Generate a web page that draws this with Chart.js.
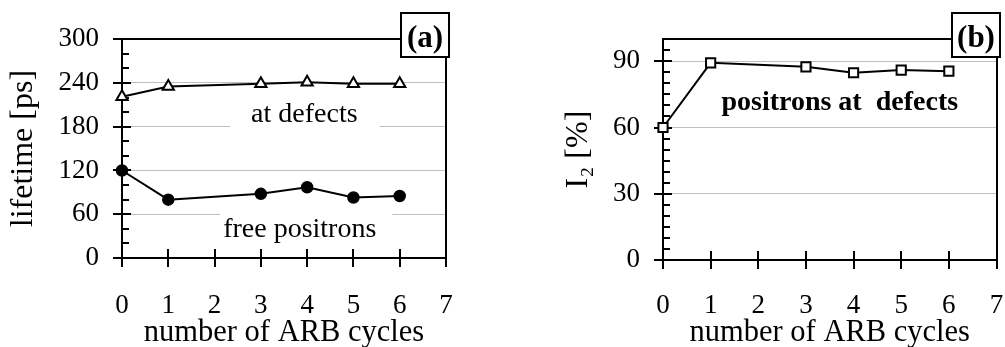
<!DOCTYPE html>
<html>
<head>
<meta charset="utf-8">
<script src="https://cdn.jsdelivr.net/npm/chart.js@4.4.1/dist/chart.umd.min.js"></script>
<style>
  html, body { margin: 0; padding: 0; background: #fff; }
  #wrap { position: relative; width: 1005px; height: 347px; overflow: hidden; }
  #chart-a { position: absolute; left: 0; top: 0; }
  #chart-b { position: absolute; left: 500px; top: 0; }
</style>
</head>
<body>
<div id="wrap">
  <canvas id="chart-a" width="500" height="347"></canvas>
  <canvas id="chart-b" width="505" height="347"></canvas>
</div>
<script>
// number of ARB cycles
const cycles = [0, 1, 3, 4, 5, 6];
// positron lifetimes [ps]
const lifetimeDefects = [221, 235, 239, 241, 239, 239];
const lifetimeFree = [120, 80, 88, 97, 83, 85];
// intensity of the defect component I2 [%]
const intensityDefects = [60, 89.3, 87.5, 84.8, 86, 85.5];

// labelled ticks
const cycleTicks = [0, 1, 2, 3, 4, 5, 6, 7];
const lifetimeTicks = [0, 60, 120, 180, 240, 300];
const intensityTicks = [0, 30, 60, 90];

const FONT = "'Liberation Serif', 'Times New Roman', serif";
const GRID = '#c0c0c0';

function toPoints(xs, ys) {
  return xs.map((x, i) => ({ x: x, y: ys[i] }));
}

// axis box, inner/outer tick marks and the text boxes Excel put on the plot
const framePlugin = {
  id: 'frame',
  beforeDatasetsDraw(chart, args, opts) {
    const ctx = chart.ctx;
    const area = chart.chartArea;
    const xs = chart.scales.x;
    const ys = chart.scales.y;
    const ax = Math.round(area.left);
    const ay = Math.round(area.bottom);

    ctx.save();
    ctx.strokeStyle = '#000';
    ctx.lineWidth = 2;
    ctx.beginPath();
    ctx.moveTo(ax - 1, Math.round(area.top));
    ctx.lineTo(Math.round(area.right) + 1, Math.round(area.top));
    ctx.moveTo(Math.round(area.right), Math.round(area.top));
    ctx.lineTo(Math.round(area.right), ay);
    ys.ticks.forEach(t => {
      const py = Math.round(ys.getPixelForValue(t.value));
      if (opts.yMajor.includes(t.value)) {
        ctx.moveTo(ax - 9, py); ctx.lineTo(ax + 9, py);
      } else {
        ctx.moveTo(ax, py); ctx.lineTo(ax + 7, py);
      }
    });
    xs.ticks.forEach(t => {
      const px = Math.round(xs.getPixelForValue(t.value));
      ctx.moveTo(px, ay - 9); ctx.lineTo(px, ay + 9);
    });
    ctx.stroke();

    // notes placed in data units
    opts.notes.forEach(n => {
      ctx.font = n.font;
      const cx = xs.getPixelForValue(n.x);
      const by = ys.getPixelForValue(n.y);
      const w = ctx.measureText(n.text).width;
      if (n.pad) {
        ctx.fillStyle = '#fff';
        ctx.fillRect(cx - w / 2 - n.pad[0], by - 24, w + n.pad[0] + n.pad[1], 32);
      }
      ctx.fillStyle = '#000';
      ctx.textAlign = 'center';
      ctx.textBaseline = 'alphabetic';
      ctx.fillText(n.text, cx, by);
    });

    // panel letter box on the upper right corner
    const bx = Math.round(area.right) - 45;
    const by = Math.round(area.top) - 26;
    ctx.fillStyle = '#fff';
    ctx.fillRect(bx, by, 48, 44);
    ctx.strokeRect(bx, by, 48, 44);
    ctx.fillStyle = '#000';
    ctx.font = "bold 31px " + FONT;
    ctx.textAlign = 'center';
    ctx.textBaseline = 'alphabetic';
    ctx.fillText(opts.letter, bx + 24, by + 34);
    ctx.restore();
  }
};

function xAxis(height, labelPad) {
  return {
    type: 'linear',
    min: 0,
    max: 7,
    afterFit: s => {
      s.height = height;
      // the edge labels may hang over the plot sides
      s.paddingLeft = 0;
      s.paddingRight = 0;
    },
    grid: { display: false, drawTicks: false },
    border: { display: true, color: '#000', width: 2 },
    ticks: {
      stepSize: 1,
      autoSkip: false,
      padding: labelPad,
      color: '#000',
      font: { family: FONT, size: 27 },
      callback: v => cycleTicks.includes(v) ? String(v) : ''
    },
    title: {
      display: true,
      text: 'number of ARB cycles',
      color: '#000',
      padding: { top: 0, bottom: 0 },
      font: { family: FONT, size: 30.5, lineHeight: 0.92 }
    }
  };
}

function yAxis(width, max, step, major, titleText, titlePad) {
  return {
    type: 'linear',
    min: 0,
    max: max,
    afterFit: s => { s.width = width; },
    grid: {
      drawTicks: false,
      lineWidth: 1,
      color: c => (major.includes(c.tick.value) && c.tick.value !== 0) ? GRID : 'rgba(0,0,0,0)'
    },
    border: { display: true, color: '#000', width: 2 },
    ticks: {
      stepSize: step,
      autoSkip: false,
      padding: 23,
      color: '#000',
      font: { family: FONT, size: 27 },
      callback: v => major.includes(v) ? String(v) : ''
    },
    title: {
      display: true,
      text: titleText,
      color: '#000',
      padding: { top: titlePad, bottom: 0 },
      font: { family: FONT, size: 32, lineHeight: 1.2 }
    }
  };
}

const lineStyle = {
  borderColor: '#000',
  borderWidth: 2,
  tension: 0,
  clip: false
};

new Chart(document.getElementById('chart-a'), {
  type: 'line',
  data: {
    datasets: [
      Object.assign({
        label: 'at defects',
        data: toPoints(cycles, lifetimeDefects),
        pointStyle: 'triangle',
        pointRadius: 6.5,
        pointBorderWidth: 2,
        pointBackgroundColor: '#fff',
        pointBorderColor: '#000'
      }, lineStyle),
      Object.assign({
        label: 'free positrons',
        data: toPoints(cycles, lifetimeFree),
        pointStyle: 'circle',
        pointRadius: 5.5,
        pointBorderWidth: 1.5,
        pointBackgroundColor: '#000',
        pointBorderColor: '#000'
      }, lineStyle)
    ]
  },
  options: {
    responsive: false,
    animation: false,
    devicePixelRatio: 1,
    layout: { padding: { left: 0, top: 39, right: 54, bottom: 0 } },
    scales: {
      x: xAxis(89, 32),
      y: yAxis(122, 300, 20, lifetimeTicks, 'lifetime [ps]', 4)
    },
    plugins: {
      legend: { display: false },
      tooltip: { enabled: false },
      frame: {
        letter: '(a)',
        yMajor: lifetimeTicks,
        notes: [
          { text: 'at defects', x: 3.94, y: 185.8, font: '28px ' + FONT, pad: [21, 22] },
          { text: 'free positrons', x: 3.84, y: 28.5, font: '28px ' + FONT, pad: [3, 16] }
        ]
      }
    }
  },
  plugins: [framePlugin]
});

new Chart(document.getElementById('chart-b'), {
  type: 'line',
  data: {
    datasets: [
      Object.assign({
        label: 'positrons at defects',
        data: toPoints(cycles, intensityDefects),
        pointStyle: 'rect',
        pointRadius: 6.5,
        pointBorderWidth: 2,
        pointBackgroundColor: '#fff',
        pointBorderColor: '#000'
      }, lineStyle)
    ]
  },
  options: {
    responsive: false,
    animation: false,
    devicePixelRatio: 1,
    layout: { padding: { left: 0, top: 39, right: 8, bottom: 0 } },
    scales: {
      x: xAxis(87, 30),
      y: yAxis(163, 100, 5, intensityTicks, 'I₂ [%]', 59)
    },
    plugins: {
      legend: { display: false },
      tooltip: { enabled: false },
      frame: {
        letter: '(b)',
        yMajor: intensityTicks,
        notes: [
          { text: 'positrons at  defects', x: 3.71, y: 67.9, font: 'bold 28px ' + FONT }
        ]
      }
    }
  },
  plugins: [framePlugin]
});
</script>
</body>
</html>
